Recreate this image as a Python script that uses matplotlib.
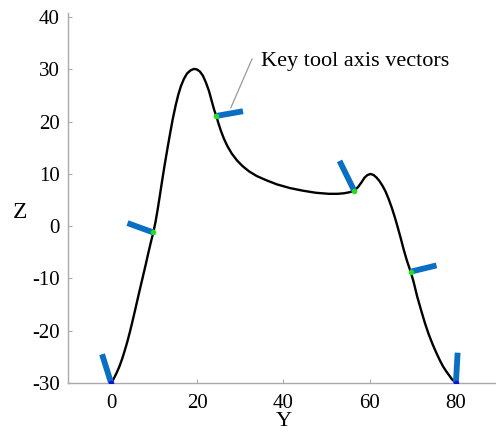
import numpy as np
import matplotlib; matplotlib.use('Agg'); import matplotlib.pyplot as plt

# tool path (Y, Z)
path_y = [0, 0.6, 1.2, 1.9, 2.6, 3.2, 3.8, 4.4, 4.9, 5.5, 6.0, 6.5, 6.9, 7.3, 7.7, 8.1, 8.5, 8.9,
          9.3, 9.8, 10.3, 10.8, 11.3, 11.8, 12.4, 13.1, 13.7, 14.3, 15.0, 15.6, 16.2, 16.9,
          17.6, 18.4, 19.2, 19.9, 20.6, 21.3, 22.0, 22.7, 23.3, 23.9, 24.4, 24.9, 25.5, 26.2,
          27.0, 28.0, 29.2, 30.5, 32.0, 33.8, 36.0, 38.5, 41.5, 44.5, 47.5, 50.5, 52.5, 54.0,
          55.3, 56.4, 57.3, 58.1, 58.8, 59.5, 60.2, 60.9, 61.6, 62.3, 63.0, 63.7, 64.4, 65.1,
          65.8, 66.5, 67.2, 67.9, 68.6, 69.5, 70.2, 71.0, 71.9, 72.8, 73.7, 74.6, 75.5, 76.3,
          77.0, 77.7, 78.4, 79.1, 80.0]
path_z = [-30, -29.2, -28.2, -26.9, -25.3, -23.7, -22.0, -20.1, -18.4, -16.3, -14.5, -12.7, -11.3,
          -9.9, -8.5, -7.1, -5.6, -4.2, -2.8, -1.2, 0.8, 3.2, 5.8, 8.5, 11.6, 15.0, 17.8,
          20.5, 23.2, 25.2, 26.8, 28.2, 29.2, 29.8, 30.1, 30.0, 29.6, 28.8, 27.5, 25.9, 24.1,
          22.3, 21.1, 19.7, 18.2, 16.7, 15.3, 13.9, 12.6, 11.5, 10.5, 9.6, 8.8, 8.0, 7.3, 6.8,
          6.4, 6.2, 6.2, 6.3, 6.5, 6.8, 7.5, 8.4, 9.3, 9.8, 10.0, 9.8, 9.3, 8.6, 7.7, 6.6, 5.2,
          3.6, 1.8, -0.2, -2.3, -4.5, -6.5, -8.7, -10.7, -13.4, -16.0, -18.5, -20.7, -22.6,
          -24.3, -25.7, -26.8, -27.7, -28.5, -29.3, -30]

# key tool axis vectors: base point -> tip
vec_y0 = [0, 9.8, 24.4, 56.4, 69.5, 80.0]
vec_z0 = [-30, -1.2, 21.1, 6.8, -8.7, -30]
vec_y1 = [-2.1, 3.8, 30.6, 53.0, 75.5, 80.4]
vec_z1 = [-24.5, 0.6, 22.0, 12.5, -7.5, -24.2]
vec_end = [True, False, False, False, False, True]

plt.rcParams['font.family'] = ['Liberation Serif', 'DejaVu Serif']
plt.rcParams['axes.unicode_minus'] = False
fig = plt.figure(figsize=(4.96, 4.34), dpi=100)
ax = fig.add_axes([68/496, 1-383/434, 431/496, 370/434])

ax.plot(path_y, path_z, color='black', lw=1.7, zorder=3, solid_joinstyle='round')
for y0, z0, y1, z1, e in zip(vec_y0, vec_z0, vec_y1, vec_z1, vec_end):
    ax.plot([y0, y1], [z0, z1], color='#0a6fc2', lw=4.2, solid_capstyle='butt', zorder=4)
    ax.plot(y0, z0, 'o', ms=4, color='#1010e0' if e else '#22dd22', mec='none', zorder=5)

# leader line + label
ax.plot([27.8, 32.7], [22.7, 32.0], color='#999999', lw=0.9, zorder=2)
ax.text(34.8, 31.6, 'Key tool axis vectors', fontsize=16, va='center', ha='left')

ax.set_xlim(-10, 90); ax.set_ylim(-30, 40.8)
ax.set_xticks([0, 20, 40, 60, 80]); ax.set_yticks(np.arange(-30, 41, 10))
for s in ['top', 'right']: ax.spines[s].set_visible(False)
for s in ['left', 'bottom']: ax.spines[s].set_color('#aaaaaa'); ax.spines[s].set_linewidth(1.0)
ax.tick_params(direction='in', length=3, color='#aaaaaa', labelsize=15)
ax.tick_params(axis='x', pad=8); ax.tick_params(axis='y', pad=6)
ax.set_xlabel('Y', fontsize=16, va='top')
ax.xaxis.set_label_coords(0.5, -0.078)
ax.set_ylabel('Z', fontsize=17, rotation=0, ha='center', va='center')
ax.yaxis.set_label_coords(-0.111, 0.462)
plt.savefig('out.png', dpi=100)
